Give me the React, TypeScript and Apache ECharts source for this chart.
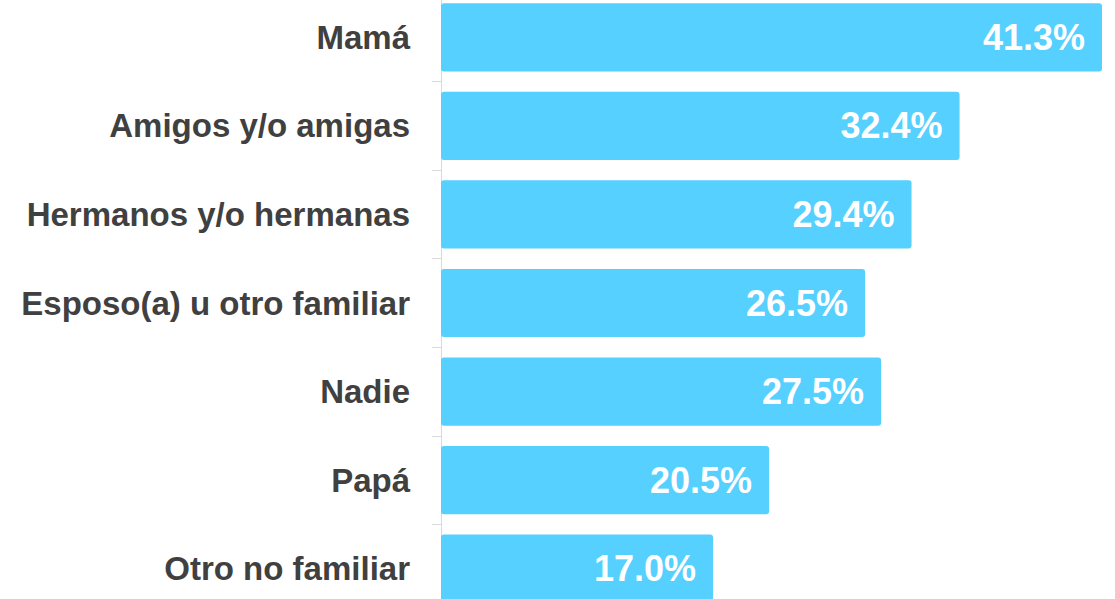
import React, { useEffect, useRef } from "react";
import * as echarts from "echarts";

const categories = [
  "Mamá",
  "Amigos y/o amigas",
  "Hermanos y/o hermanas",
  "Esposo(a) u otro familiar",
  "Nadie",
  "Papá",
  "Otro no familiar",
];
const values = [41.3, 32.4, 29.4, 26.5, 27.5, 20.5, 17.0];

export default function App() {
  const ref = useRef<HTMLDivElement>(null);
  useEffect(() => {
    if (!ref.current) return;
    const chart = echarts.init(ref.current, null, { renderer: "svg" });
    chart.setOption({
      animation: false,
      grid: { left: 441, right: 13, top: 0, bottom: 0, containLabel: false },
      xAxis: {
        type: "value",
        min: 0,
        max: 41.3,
        show: false,
      },
      yAxis: {
        type: "category",
        inverse: true,
        data: categories,
        axisLine: { show: true, lineStyle: { color: "#d9d9d9", width: 1 } },
        axisTick: { show: true, length: 9, lineStyle: { color: "#d9d9d9" } },
        axisLabel: {
          margin: 31,
          color: "#404040",
          fontSize: 33,
          fontWeight: "bold",
          fontFamily: "Liberation Sans, Arial, sans-serif",
        },
      },
      series: [
        {
          type: "bar",
          data: values,
          barCategoryGap: "23%",
          itemStyle: { color: "#55D0FF", borderRadius: 3 },
          label: {
            show: true,
            position: "insideRight",
            distance: 17,
            color: "#ffffff",
            fontSize: 36,
            fontWeight: "bold",
            fontFamily: "Liberation Sans, Arial, sans-serif",
            formatter: (p: any) => p.value.toFixed(1) + "%",
          },
        },
      ],
    });
    return () => chart.dispose();
  }, []);
  return (
    <div style={{ position: "fixed", left: 0, top: 0, width: 1115, height: 599, overflow: "hidden", background: "#fff" }}>
      <div
        ref={ref}
        style={{ position: "absolute", left: 0, top: -6.6, width: 1115, height: 620.2 }}
      />
    </div>
  );
}
